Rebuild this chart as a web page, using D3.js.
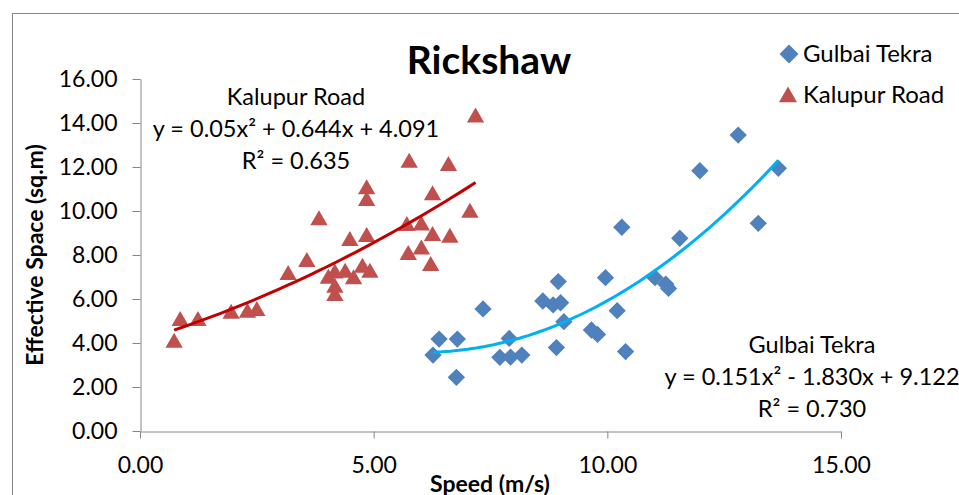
<!DOCTYPE html>
<html>
<head>
<meta charset="utf-8">
<script src="https://cdn.jsdelivr.net/npm/d3@7"></script>
<style>
  body { margin: 0; background: #fff; }
  svg text { font-family: Lato, "Open Sans", sans-serif; fill: #000; }
</style>
</head>
<body>
<div id="chart"></div>
<script>
// speed (m/s) and effective space (sq.m)
const gulbaiSpeed = [6.27, 6.40, 6.79, 6.77, 7.34, 7.70, 7.90, 7.93, 8.17, 8.62, 8.84, 9.00, 8.95, 8.91, 9.07,
    9.66, 9.79, 9.96, 10.21, 10.31, 10.39, 11.02, 11.25, 11.31, 11.55, 11.98, 12.80, 13.23, 13.66];
const gulbaiSpace = [3.45, 4.18, 4.18, 2.44, 5.55, 3.35, 4.21, 3.36, 3.45, 5.91, 5.73, 5.83, 6.79, 3.79, 4.97,
    4.59, 4.39, 6.97, 5.47, 9.26, 3.61, 6.97, 6.68, 6.48, 8.76, 11.83, 13.45, 9.44, 11.94];

const kalupurSpeed = [0.73, 0.86, 1.24, 1.95, 2.30, 2.50, 3.17, 3.57, 3.83, 4.03, 4.17, 4.17, 4.17, 4.39, 4.49,
    4.57, 4.76, 4.85, 4.85, 4.85, 4.92, 5.76, 5.71, 5.74, 6.02, 6.02, 6.26, 6.26, 6.22, 6.60, 6.63, 7.06, 7.18];
const kalupurSpace = [4.06, 5.05, 5.05, 5.38, 5.42, 5.50, 7.14, 7.73, 9.62, 6.97, 7.20, 6.56, 6.18, 7.24, 8.68,
    6.94, 7.47, 11.03, 10.50, 8.86, 7.24, 12.24, 9.36, 8.05, 9.39, 8.30, 10.76, 8.91, 7.55, 12.09, 8.83, 9.97, 14.29];

// polynomial trendline coefficients [a, b, c] for a*x^2 + b*x + c
const gulbaiFit = [0.151, -1.830, 9.122];
const kalupurFit = [0.05, 0.644, 4.091];

const gulbaiLabel = ["Gulbai Tekra", "y = 0.151x² - 1.830x + 9.122", "R² = 0.730"];
const kalupurLabel = ["Kalupur Road", "y = 0.05x² + 0.644x + 4.091", "R² = 0.635"];

const xTicks = [0, 5, 10, 15];
const yTicks = [0, 2, 4, 6, 8, 10, 12, 14, 16];

const width = 959, height = 495;
const grey = "#868686";

const svg = d3.select("#chart").append("svg")
    .attr("width", width)
    .attr("height", height);

// chart border (runs off the right and bottom edges)
svg.append("rect")
    .attr("x", 12.5).attr("y", 13.5)
    .attr("width", 1000).attr("height", 600)
    .attr("fill", "none").attr("stroke", grey);

const x = d3.scaleLinear().domain([0, 15]).range([140, 841]);
const y = d3.scaleLinear().domain([0, 16]).range([431, 79]);

// axes
const yAxis = svg.append("g")
    .attr("transform", "translate(140.5,0)")
    .call(d3.axisLeft(y).tickValues(yTicks).tickFormat(d3.format(".2f"))
        .tickSize(8).tickSizeOuter(0).tickPadding(15));

const xAxis = svg.append("g")
    .attr("transform", "translate(0,431.5)")
    .call(d3.axisBottom(x).tickValues(xTicks).tickFormat(d3.format(".2f"))
        .tickSize(7).tickSizeOuter(0).tickPadding(18));

[xAxis, yAxis].forEach(g => {
    g.selectAll("path, line").attr("stroke", grey);
    g.selectAll("text").attr("font-size", 23).attr("font-family", "Lato");
});

// titles
svg.append("text")
    .attr("x", 489).attr("y", 74)
    .attr("text-anchor", "middle")
    .attr("font-size", 39).attr("font-weight", "bold")
    .text("Rickshaw");

svg.append("text")
    .attr("x", 490).attr("y", 492)
    .attr("text-anchor", "middle")
    .attr("font-size", 23).attr("font-weight", "bold")
    .text("Speed (m/s)");

svg.append("text")
    .attr("transform", "translate(43,255) rotate(-90)")
    .attr("text-anchor", "middle")
    .attr("font-size", 23).attr("font-weight", "bold")
    .text("Effective Space (sq.m)");

// markers
const diamond = d3.symbol().type(d3.symbolSquare).size(150);
const triangle = d3.symbol().type(d3.symbolTriangle).size(130);

svg.append("g").selectAll("path")
    .data(d3.zip(gulbaiSpeed, gulbaiSpace))
    .join("path")
    .attr("d", diamond)
    .attr("transform", d => `translate(${x(d[0])},${y(d[1])}) rotate(45)`)
    .attr("fill", "#4F81BD");

svg.append("g").selectAll("path")
    .data(d3.zip(kalupurSpeed, kalupurSpace))
    .join("path")
    .attr("d", triangle)
    .attr("transform", d => `translate(${x(d[0])},${y(d[1]) + 1})`)
    .attr("fill", "#C0504D");

// trendlines
const line = d3.line().x(d => x(d[0])).y(d => y(d[1]));

function trend(xs, fit) {
    const lo = d3.min(xs), hi = d3.max(xs);
    return d3.range(0, 41).map(i => {
        const v = lo + (hi - lo) * i / 40;
        return [v, fit[0] * v * v + fit[1] * v + fit[2]];
    });
}

svg.append("path")
    .datum(trend(kalupurSpeed, kalupurFit))
    .attr("d", line)
    .attr("fill", "none").attr("stroke", "#C00000").attr("stroke-width", 3);

svg.append("path")
    .datum(trend(gulbaiSpeed, gulbaiFit))
    .attr("d", line)
    .attr("fill", "none").attr("stroke", "#00B0F0").attr("stroke-width", 3);

// trendline labels
function label(lines, cx, y0) {
    svg.append("g").selectAll("text")
        .data(lines)
        .join("text")
        .attr("x", cx).attr("y", (d, i) => y0 + i * 32)
        .attr("text-anchor", "middle")
        .attr("font-size", 23.5)
        .text(d => d);
}
label(kalupurLabel, 296, 105);
label(gulbaiLabel, 812, 353);

// legend
const legend = svg.append("g");
legend.append("path")
    .attr("d", d3.symbol().type(d3.symbolSquare).size(180))
    .attr("transform", "translate(789,54) rotate(45)")
    .attr("fill", "#4F81BD");
legend.append("text")
    .attr("x", 803).attr("y", 62)
    .attr("font-size", 24)
    .text("Gulbai Tekra");
legend.append("path")
    .attr("d", d3.symbol().type(d3.symbolTriangle).size(140))
    .attr("transform", "translate(788,97)")
    .attr("fill", "#C0504D");
legend.append("text")
    .attr("x", 803).attr("y", 103)
    .attr("font-size", 24)
    .text("Kalupur Road");
</script>
</body>
</html>
